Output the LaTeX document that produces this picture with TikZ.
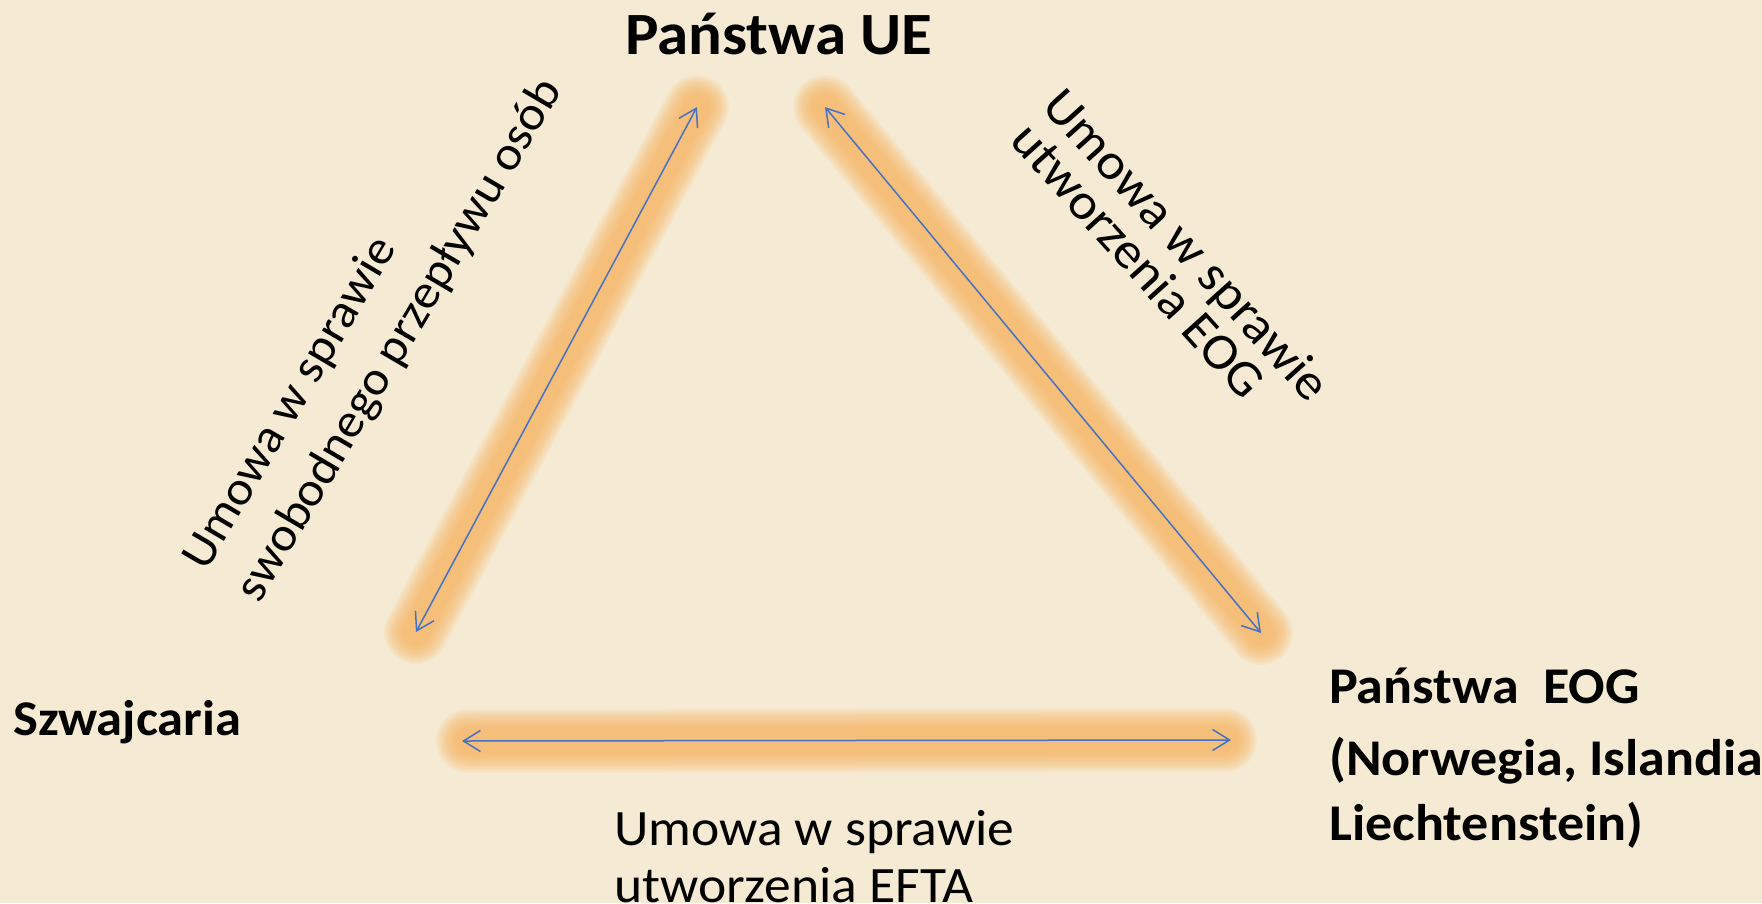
\documentclass[tikz,border=0pt]{standalone}
\usepackage{fontspec}
\usepackage{graphicx}
\setmainfont{Carlito}
\usetikzlibrary{arrows.meta,calc}
\definecolor{bg}{RGB}{245,235,213}
\definecolor{glowc}{RGB}{250,180,97}
\definecolor{arrc}{RGB}{68,114,196}
\newcommand\wtxt[1]{\scalebox{1.05}[1]{#1}}
\begin{document}
\begin{tikzpicture}[x=1pt,y=-1pt,
  titlebig/.style={inner sep=0pt, anchor=base west, font=\fontsize{60}{72}\selectfont\bfseries},
  place/.style={inner sep=0pt, anchor=base west, font=\fontsize{51.5}{62}\selectfont\bfseries},
  placech/.style={inner sep=0pt, anchor=base west, font=\fontsize{50}{60}\selectfont\bfseries},
  lbl/.style={inner sep=0pt, font=\fontsize{51}{61}\selectfont},
  lblsmall/.style={inner sep=0pt, font=\fontsize{48}{58}\selectfont},
  glowline/.style={glowc, line cap=round, opacity=0.12},
  arrline/.style={draw=arrc, line width=1.5pt,
    {Straight Barb[length=17pt,width=21pt]}-{Straight Barb[length=17pt,width=21pt]}},
  ]
\fill[bg] (0,0) rectangle (1762,903);
\useasboundingbox (0,0) rectangle (1762,903);

% end points of the connectors
\coordinate (ueL) at (697,107);
\coordinate (chT) at (416,632);
\coordinate (ueR) at (825,107);
\coordinate (eogT) at (1261,633);
\coordinate (chR) at (462,741);
\coordinate (eogL) at (1231,740);

% orange glow bands
\foreach \w in {64,60,...,24} {
  \draw[glowline, line width=\w pt] (chT) -- (ueL);
  \draw[glowline, line width=\w pt] (ueR) -- (eogT);
  \draw[glowline, line width=\w pt] ([xshift=6pt]chR) -- ([xshift=-6pt]eogL);
}

% arrows
\draw[arrline] (chT) -- (ueL);
\draw[arrline] (ueR) -- (eogT);
\draw[arrline] (chR) -- (eogL);

% places
\node[titlebig] (ue) at (625,54) {\wtxt{Państwa UE}};
\node[placech] (ch) at (13,735) {\wtxt{Szwajcaria}};
\node[place] (eog1) at (1329,703) {\wtxt{Państwa~ EOG}};
\node[place] (eog2) at (1329,775) {\wtxt{(Norwegia, Islandia}};
\node[place] (eog3) at (1329,840) {\wtxt{Liechtenstein)}};

% agreement labels
\node[lblsmall, rotate=59.5, anchor=center] (swA) at (291,404) {\wtxt{Umowa w sprawie}};
\node[lblsmall, rotate=59.5, anchor=base west] (swB)
  at ($(swA.base west)!62pt!-90:(swA.base east)$) {\wtxt{swobodnego przepływu osób}};
\node[lbl, rotate=-48, anchor=center] (eogA) at (1184.5,247) {\wtxt{Umowa w sprawie}};
\node[lbl, rotate=-48, anchor=base west] (eogB)
  at ($(eogA.base west)!47pt!-90:(eogA.base east) + (2.7,3)$) {\wtxt{utworzenia EOG}};
\node[lbl, anchor=base west] (eftaA) at (614,845) {\wtxt{Umowa w sprawie}};
\node[lbl, anchor=base west] (eftaB) at (614,902) {\wtxt{utworzenia EFTA}};
\end{tikzpicture}
\end{document}
